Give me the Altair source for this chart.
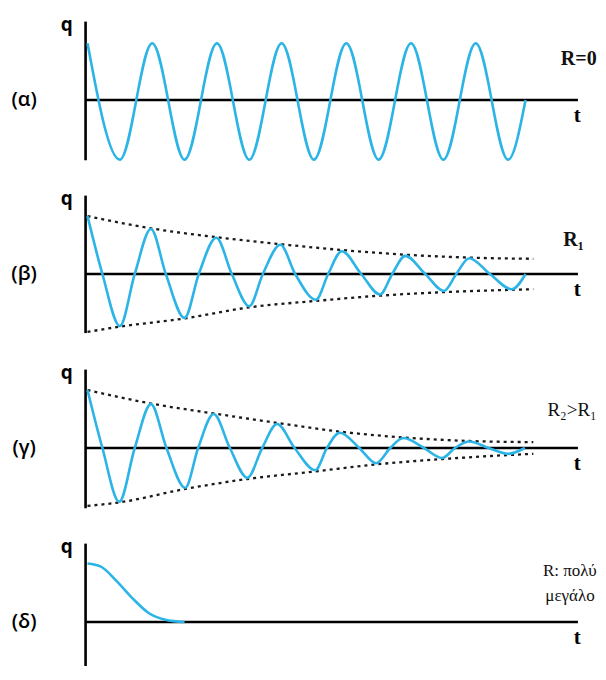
import altair as alt
import pandas as pd

# ---------------- values ----------------
# (α) R = 0 : undamped oscillation (extrema + end point)
A_T = [0.0, 0.5, 1.0, 1.5, 2.0, 2.5, 3.0, 3.5, 4.0, 4.5, 5.0, 5.5, 6.0, 6.5, 6.77]
A_Q = [0.97, -1.02, 0.97, -1.02, 0.97, -1.02, 0.97, -1.02, 0.97, -1.02, 0.97, -1.02, 0.97, -1.02, 0.0]

# (β) R1 : damped oscillation (extrema and zero crossings)
B_T = [0.0, 0.23, 0.50, 0.73, 0.98, 1.21, 1.50, 1.72, 1.99, 2.23, 2.50, 2.71, 2.98, 3.21,
       3.53, 3.72, 3.93, 4.23, 4.52, 4.71, 4.91, 5.22, 5.51, 5.70, 5.90, 6.22, 6.56, 6.77]
B_Q = [0.99, 0.0, -0.89, 0.0, 0.77, 0.0, -0.75, 0.0, 0.62, 0.0, -0.55, 0.0, 0.50, 0.0,
       -0.44, 0.0, 0.39, 0.0, -0.35, 0.0, 0.31, 0.0, -0.29, 0.0, 0.27, 0.0, -0.26, 0.0]
B_UP_T = [0.0, 0.98, 1.99, 2.98, 3.93, 4.91, 5.90, 6.89]
B_UP_Q = [0.99, 0.78, 0.63, 0.51, 0.41, 0.33, 0.28, 0.26]
B_LO_T = [0.0, 0.50, 1.50, 2.50, 3.53, 4.52, 5.51, 6.56, 6.89]
B_LO_Q = [-0.99, -0.90, -0.76, -0.57, -0.46, -0.37, -0.31, -0.27, -0.26]

# (γ) R2 > R1 : stronger damping
G_T = [0.0, 0.23, 0.49, 0.73, 0.98, 1.22, 1.51, 1.71, 1.95, 2.20, 2.47, 2.70, 2.93, 3.20,
       3.52, 3.70, 3.90, 4.20, 4.46, 4.68, 4.88, 5.20, 5.48, 5.68, 5.90, 6.20, 6.50, 6.76]
G_Q = [0.99, 0.0, -0.92, 0.0, 0.75, 0.0, -0.68, 0.0, 0.58, 0.0, -0.51, 0.0, 0.41, 0.0,
       -0.38, 0.0, 0.26, 0.0, -0.26, 0.0, 0.17, 0.0, -0.17, 0.0, 0.11, 0.0, -0.10, 0.0]
G_UP_T = [0.0, 0.98, 1.95, 2.93, 3.90, 4.88, 5.90, 6.89]
G_UP_Q = [0.99, 0.76, 0.59, 0.43, 0.28, 0.18, 0.12, 0.10]
G_LO_T = [0.0, 0.49, 1.51, 2.47, 3.52, 4.46, 5.48, 6.50, 6.89]
G_LO_Q = [-0.99, -0.93, -0.70, -0.53, -0.40, -0.28, -0.19, -0.12, -0.10]

# (δ) R very large : over-damped
D_T = [0.0, 0.20, 0.45, 0.70, 0.95, 1.20, 1.50]
D_Q = [1.00, 0.95, 0.70, 0.40, 0.15, 0.04, 0.0]

PANEL_LABELS = ["(α)", "(β)", "(γ)", "(δ)"]
R_LABELS = [["R=0"], ["R₁"], ["R₂>R₁"], ["R: πολύ", "μεγάλο"]]
# right edges of the resistance labels (t units) and their heights (q units)
R_POS_T = [[7.87], [7.67], [7.87], [7.87, 7.84]]
R_POS_Q = [[0.70], [0.58], [0.65], [0.87, 0.44]]
R_WEIGHT = ["bold", "bold", "normal", "normal"]
R_SIZE = [20, 20, 19, 17]

# ---------------- layout constants ----------------
BLUE = "#2cb4e6"
X_MIN, X_MAX = -1.229, 7.890
Q_TOP = 1.5726
AXIS_T = -0.03
AXIS_END = 7.58
AXIS_TOP = 1.34
W = 590


def panel(curve_t, curve_q, env, idx, h, qbot, axis_bot):
    xs = alt.Scale(domain=[X_MIN, X_MAX], nice=False, zero=False)
    ys = alt.Scale(domain=[qbot, Q_TOP], nice=False, zero=False)
    X = alt.X("t:Q", scale=xs, axis=None)
    Y = alt.Y("q:Q", scale=ys, axis=None)

    layers = []
    vdf = pd.DataFrame({"t": [AXIS_T], "q": [AXIS_TOP], "q2": [axis_bot]})
    layers.append(alt.Chart(vdf).mark_rule(color="black", strokeWidth=2.6).encode(
        x=X, y=Y, y2="q2:Q"))
    hdf = pd.DataFrame({"t": [AXIS_T], "t2": [AXIS_END], "q": [0.0]})
    layers.append(alt.Chart(hdf).mark_rule(color="black", strokeWidth=2.6).encode(
        x=X, x2="t2:Q", y=Y))

    if env:
        rows = []
        for side, (et, eq) in env.items():
            for a, b in zip(et, eq):
                rows.append({"t": a, "q": b, "side": side})
        edf = pd.DataFrame(rows)
        layers.append(alt.Chart(edf).mark_line(
            color="#1a1a1a", strokeWidth=2.3, strokeDash=[3, 4], interpolate="monotone"
        ).encode(x=X, y=Y, detail="side:N"))

    cdf = pd.DataFrame({"t": curve_t, "q": curve_q})
    layers.append(alt.Chart(cdf).mark_line(
        color=BLUE, strokeWidth=2.6, interpolate="monotone").encode(x=X, y=Y))

    def txt(df, **kw):
        return alt.Chart(df).mark_text(baseline="middle", clip=True, **kw).encode(
            x=X, y=Y, text="s:N")

    layers.append(txt(pd.DataFrame({"t": [-0.32], "q": [1.28], "s": ["q"]}),
                      align="center", font="Open Sans", fontSize=19, fontWeight="bold"))
    layers.append(txt(pd.DataFrame({"t": [-0.98], "q": [0.0], "s": [PANEL_LABELS[idx]]}),
                      align="center", font="Open Sans", fontSize=20, fontWeight=600))
    layers.append(txt(pd.DataFrame({"t": [7.57], "q": [-0.27], "s": ["t"]}),
                      align="center", font="Liberation Serif", fontSize=21, fontWeight="bold"))
    layers.append(txt(pd.DataFrame({"t": R_POS_T[idx], "q": R_POS_Q[idx], "s": R_LABELS[idx]}),
                      align="right", font="Liberation Serif", fontSize=R_SIZE[idx],
                      fontWeight=R_WEIGHT[idx], color="#111"))

    return alt.layer(*layers).properties(width=W, height=h)


p1 = panel(A_T, A_Q, None, 0, 174, -1.4017, -1.03)
p2 = panel(B_T, B_Q, {"up": (B_UP_T, B_UP_Q), "lo": (B_LO_T, B_LO_Q)}, 1, 174, -1.4017, -1.01)
p3 = panel(G_T, G_Q, {"up": (G_UP_T, G_UP_Q), "lo": (G_LO_T, G_LO_Q)}, 2, 174, -1.4017, -1.03)
p4 = panel(D_T, D_Q, None, 3, 136, -0.752, -0.752)

chart = alt.vconcat(p1, p2, p3, p4, spacing=0).resolve_scale(
    x="independent", y="independent"
).properties(padding=0, background="white").configure_view(stroke=None)

chart.save("out.html", embed_options={"renderer": "svg", "actions": False})
